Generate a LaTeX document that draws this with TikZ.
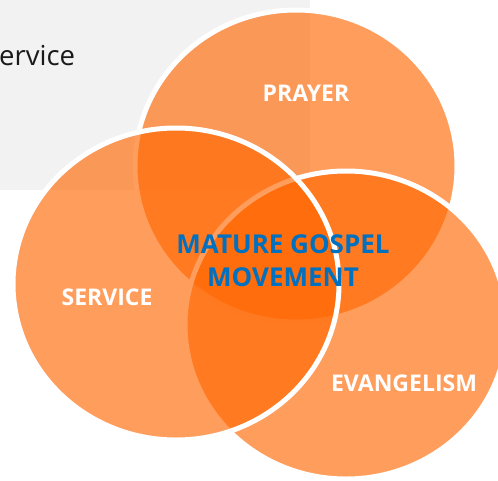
\documentclass[tikz,border=0pt]{standalone}
\usepackage{fontspec}
\usetikzlibrary{shapes.geometric}
\setmainfont{Open Sans}
\definecolor{vorange}{HTML}{FF6600}
\definecolor{vblue}{HTML}{0070C0}
\definecolor{bggray}{HTML}{F2F2F2}
\definecolor{txtdark}{HTML}{1A1A1A}
\begin{document}
\begin{tikzpicture}[x=1pt,y=-1pt,
  venn/.style={ellipse, minimum width=322pt, minimum height=312pt, inner sep=0pt, outer sep=0pt,
    fill=vorange, fill opacity=0.64, draw=white, draw opacity=1, line width=5pt},
  lab/.style={text=white, inner sep=0pt, font=\bfseries\fontsize{23}{28}\selectfont},
  centerlab/.style={text=vblue, inner sep=0pt, align=center,
    font=\bfseries\fontsize{26}{33}\selectfont}]
\useasboundingbox (0,0) rectangle (498,480);
\fill[bggray] (0,0) rectangle (310,190);
\node[anchor=base west, inner sep=0pt, text=txtdark,
  font=\fontsize{27.5}{32}\selectfont] (cut) at (-1,65) {ervice};
\node[venn] (prayer) at (296,166) {};
\node[venn, minimum height=308pt] (evan) at (346,325) {};
\node[venn, minimum width=326pt] (serv) at (176,284) {};
\node[lab] (lprayer) at (306,93) {PRAYER};
\node[lab] (lserv) at (107,297) {SERVICE};
\node[lab] (levan) at (404,383) {EVANGELISM};
\node[centerlab] (lcenter) at (283,261) {MATURE GOSPEL\\MOVEMENT};
\end{tikzpicture}
\end{document}
